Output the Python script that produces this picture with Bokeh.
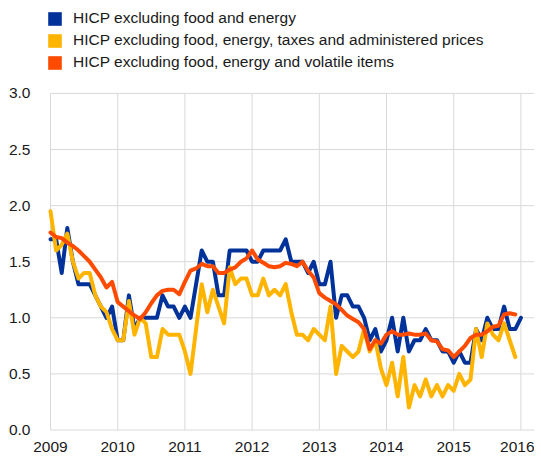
from bokeh.plotting import figure
from bokeh.models import (Range1d, FixedTicker, PrintfTickFormatter, Legend, LegendItem,
                          ColumnDataSource)
from bokeh.embed import file_html
from bokeh.resources import INLINE

# ---- data (monthly, Jan 2009 onward, annual % changes) ----
start_year = 2009
year_ticks = [2009, 2010, 2011, 2012, 2013, 2014, 2015, 2016]
y_ticks = [0.0, 0.5, 1.0, 1.5, 2.0, 2.5, 3.0]

labels = [
    "HICP excluding food and energy",
    "HICP excluding food, energy, taxes and administered prices",
    "HICP excluding food, energy and volatile items",
]

hicp_ex_food_energy = [
    1.7, 1.7, 1.4, 1.8, 1.5, 1.3, 1.3, 1.3, 1.2, 1.1, 1.0, 1.1,
    0.8, 0.8, 1.2, 0.9, 1.0, 1.0, 1.0, 1.0, 1.2, 1.1, 1.1, 1.0,
    1.1, 1.0, 1.3, 1.6, 1.5, 1.5, 1.2, 1.2, 1.6, 1.6, 1.6, 1.6,
    1.5, 1.5, 1.6, 1.6, 1.6, 1.6, 1.7, 1.5, 1.5, 1.5, 1.4, 1.5,
    1.3, 1.3, 1.5, 1.0, 1.2, 1.2, 1.1, 1.1, 1.0, 0.8, 0.9, 0.7,
    0.8, 1.0, 0.7, 1.0, 0.7, 0.8, 0.8, 0.9, 0.8, 0.8, 0.7, 0.7,
    0.6, 0.7, 0.6, 0.6, 0.9, 0.8, 1.0, 0.9, 0.9, 1.1, 0.9, 0.9,
    1.0,
]

hicp_ex_taxes_admin = [
    1.95, 1.6, 1.65, 1.75, 1.5, 1.35, 1.4, 1.4, 1.2, 1.1, 1.05, 0.9,
    0.8, 0.8, 1.15, 0.85, 1.0, 0.95, 0.65, 0.65, 0.9, 0.85, 0.85, 0.85,
    0.7, 0.5, 0.9, 1.3, 1.05, 1.25, 1.1, 0.95, 1.45, 1.3, 1.35, 1.35,
    1.2, 1.2, 1.35, 1.2, 1.25, 1.2, 1.3, 1.05, 0.85, 0.85, 0.8, 0.9,
    0.85, 0.8, 1.1, 0.5, 0.75, 0.7, 0.65, 0.7, 0.9, 0.7, 0.8, 0.55,
    0.4, 0.6, 0.3, 0.65, 0.2, 0.4, 0.3, 0.45, 0.3, 0.4, 0.3, 0.4,
    0.35, 0.5, 0.4, 0.45, 0.9, 0.65, 0.95, 0.85, 0.8, 0.95, 0.8, 0.65,
]

hicp_ex_volatile = [
    1.76, 1.72, 1.71, 1.67, 1.64, 1.6, 1.55, 1.5, 1.43, 1.36, 1.27, 1.32,
    1.14, 1.1, 1.06, 1.02, 0.99, 1.05, 1.13, 1.2, 1.24, 1.25, 1.25, 1.21,
    1.32, 1.42, 1.44, 1.48, 1.46, 1.46, 1.4, 1.4, 1.43, 1.45, 1.5, 1.53,
    1.6, 1.52, 1.49, 1.46, 1.45, 1.46, 1.49, 1.48, 1.46, 1.5, 1.42, 1.36,
    1.22, 1.18, 1.15, 1.12, 1.07, 1.02, 0.99, 0.96, 0.9, 0.72, 0.8, 0.77,
    0.85, 0.88, 0.85, 0.85, 0.86, 0.85, 0.85, 0.86, 0.8, 0.79, 0.72, 0.71,
    0.65, 0.7, 0.75, 0.82, 0.85, 0.85, 0.88, 0.92, 0.93, 1.03, 1.04, 1.03,
]

colors = ["#003299", "#FFB400", "#FF4B00"]
series = [hicp_ex_food_energy, hicp_ex_taxes_admin, hicp_ex_volatile]

FONT = "Liberation Sans"
FONT_SIZE = "15.5px"
TEXT_COL = "#1a1a1a"
GRID_COL = "#d9d9d9"

# layout geometry (pixels)
W, H = 534, 454
BORDER_L = 44
AXIS_B = 25             # height taken by the year labels below the frame
PX_YEAR = 67.2          # pixels per year
PX_UNIT = 111.67        # pixels per percentage point
LEFT_PAD = 6            # frame space left of the 2009 line
RIGHT_PAD = (W - BORDER_L) - LEFT_PAD - 7 * PX_YEAR
TOP_PAD = 92.5          # frame space above 3.0 (holds the legend)
BOTTOM_PAD = (H - AXIS_B) - TOP_PAD - 3 * PX_UNIT

x_end = year_ticks[-1] + RIGHT_PAD / PX_YEAR
p = figure(width=W, height=H, output_backend="svg", toolbar_location=None,
           x_range=Range1d(start_year - LEFT_PAD / PX_YEAR, x_end),
           y_range=Range1d(-BOTTOM_PAD / PX_UNIT, y_ticks[-1] + TOP_PAD / PX_UNIT),
           min_border_left=BORDER_L, min_border_right=0, min_border_top=0,
           min_border_bottom=0)
p.outline_line_color = None
p.grid.visible = False

# grid lines (only over the data area)
p.segment(x0=year_ticks, y0=[y_ticks[0]] * len(year_ticks),
          x1=year_ticks, y1=[y_ticks[-1]] * len(year_ticks),
          line_color=GRID_COL, line_width=1)
p.segment(x0=[start_year] * len(y_ticks), y0=y_ticks,
          x1=[x_end] * len(y_ticks), y1=y_ticks,
          line_color=GRID_COL, line_width=1)

p.xaxis.ticker = FixedTicker(ticks=year_ticks)
p.yaxis.ticker = FixedTicker(ticks=y_ticks)
p.yaxis.formatter = PrintfTickFormatter(format="%.1f")
for ax in (p.xaxis, p.yaxis):
    ax.axis_line_color = None
    ax.major_tick_line_color = None
    ax.minor_tick_line_color = None
    ax.major_label_text_font = FONT
    ax.major_label_text_font_size = FONT_SIZE
    ax.major_label_text_color = TEXT_COL
p.xaxis.major_label_standoff = 4
p.yaxis.major_label_standoff = 8

for vals, col in zip(series, colors):
    xs = [start_year + i / 12 for i in range(len(vals))]
    p.line(xs, vals, line_color=col, line_width=4, line_join="round", line_cap="round")

# legend swatches: zero-area quads (invisible in the plot), drawn as squares in the legend
items = []
for lab, col in zip(labels, colors):
    src = ColumnDataSource(dict(left=[start_year], right=[start_year],
                                top=[y_ticks[0]], bottom=[y_ticks[0]]))
    r = p.quad(left="left", right="right", top="top", bottom="bottom", source=src,
               fill_color=col, line_color=None)
    items.append(LegendItem(label=lab, renderers=[r]))

legend = Legend(items=items, location=(2, 360), orientation="vertical",
                glyph_width=17, glyph_height=17, label_height=17,
                label_standoff=10, spacing=4, padding=0, margin=0,
                border_line_color=None, background_fill_alpha=0,
                label_text_font=FONT, label_text_font_size=FONT_SIZE,
                label_text_color=TEXT_COL)
p.add_layout(legend, "center")

open("out.html", "w").write(file_html(p, INLINE))
